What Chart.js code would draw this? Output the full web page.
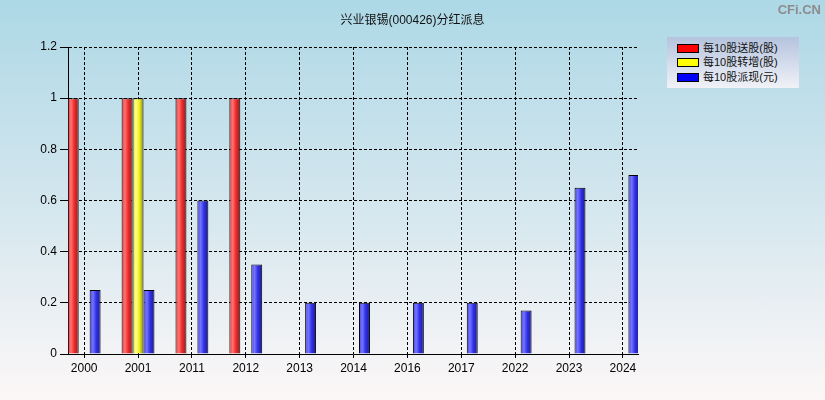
<!DOCTYPE html>
<html>
<head>
<meta charset="utf-8">
<script src="https://cdn.jsdelivr.net/npm/chart.js@4/dist/chart.umd.min.js"></script>
<style>
  body { margin: 0; }
  #wrap {
    position: relative;
    width: 825px;
    height: 400px;
    background: linear-gradient(to bottom, #add8e6 0%, #d3e6ee 50%, #fcf7f7 100%);
    font-family: 'Liberation Sans', 'Noto Sans CJK SC', sans-serif;
  }
  #title {
    position: absolute; left: 0; width: 825px; top: 10px;
    text-align: center; font-size: 12px; color: #111;
  }
  #mark {
    position: absolute; right: 4px; top: 2px;
    font: bold 13px 'Liberation Sans', sans-serif; color: #8c8c8c;
  }
  #legend {
    position: absolute; left: 667px; top: 37px; width: 132px; height: 51px;
    background: linear-gradient(to bottom, #b5c3de, #f1f2f8);
    font-size: 11px; color: #111;
  }
  .row { position: absolute; left: 10px; height: 14px; line-height: 14px; white-space: nowrap; }
  .sw { display: inline-block; width: 22px; height: 9px; border: 1px solid #000; box-sizing: border-box; vertical-align: -1px; margin-right: 4px; }
</style>
</head>
<body>
<div id="wrap">
  <canvas id="chart"></canvas>
  <div id="title">兴业银锡(000426)分红派息</div>
  <div id="mark">CFi.CN</div>
  <div id="legend"></div>
</div>
<script>
const years = ['2000', '2001', '2011', '2012', '2013', '2014', '2016', '2017', '2022', '2023', '2024'];
const songGu = [1, 1, 1, 1, null, null, null, null, null, null, null];
const zhuanZeng = [null, 1, null, null, null, null, null, null, null, null, null];
const paiXian = [0.25, 0.25, 0.6, 0.35, 0.2, 0.2, 0.2, 0.2, 0.17, 0.65, 0.7];
const seriesNames = ['每10股送股(股)', '每10股转增(股)', '每10股派现(元)'];
const seriesColors = ['#ff0000', '#ffff00', '#0000ff'];

// cylinder-like shading, stops per colour
const shades = [
  ['#d84040', '#ff7272', '#f02a2a', '#8a2020'],
  ['#d8d838', '#ffff8a', '#f2f222', '#8c8c10'],
  ['#4848d8', '#7474ff', '#3030ea', '#1c1c88'],
];

function barFill(c) {
  const i = c.datasetIndex;
  const el = c.element;
  if (!el || el.x == null || !el.width) return seriesColors[i];
  const g = c.chart.ctx.createLinearGradient(el.x - el.width / 2, 0, el.x + el.width / 2, 0);
  g.addColorStop(0, shades[i][0]);
  g.addColorStop(0.3, shades[i][1]);
  g.addColorStop(0.6, shades[i][2]);
  g.addColorStop(1, shades[i][3]);
  return g;
}

const toPoints = arr => arr.map((v, i) => ({ x: i, y: v }));

const legendEl = document.getElementById('legend');
seriesNames.forEach((name, i) => {
  const row = document.createElement('div');
  row.className = 'row';
  row.style.top = (4 + i * 14.3) + 'px';
  row.innerHTML = '<span class="sw" style="background:' + seriesColors[i] + '"></span>' + name;
  legendEl.appendChild(row);
});

const tickFont = { family: "'Liberation Sans', 'Noto Sans CJK SC', sans-serif", size: 12 };

const chart = new Chart(document.getElementById('chart'), {
  type: 'bar',
  data: {
    datasets: [songGu, zhuanZeng, paiXian].map((arr, i) => ({
      label: seriesNames[i],
      data: toPoints(arr),
      backgroundColor: barFill,
      borderColor: '#000',
      borderWidth: 1,
      categoryPercentage: 0.61,
      barPercentage: 1,
    })),
  },
  options: {
    responsive: true,
    maintainAspectRatio: false,
    animation: false,
    layout: { padding: { top: 47, right: 187, left: 0, bottom: 0 } },
    plugins: {
      legend: { display: false },
      tooltip: { enabled: false },
    },
    scales: {
      x: {
        type: 'linear',
        min: -0.3,
        max: 10.28,
        offset: false,
        afterBuildTicks: axis => { axis.ticks = years.map((y, i) => ({ value: i })); },
        afterFit: axis => { axis.height = 46; },
        grid: { offset: false, color: '#000', tickLength: 4, tickBorderDash: [] },
        border: { color: '#000', width: 1, dash: [3, 2] },
        ticks: {
          autoSkip: false,
          maxRotation: 0,
          padding: 3,
          color: '#000',
          font: tickFont,
          callback: v => years[v],
        },
      },
      y: {
        min: 0,
        max: 1.2,
        afterFit: axis => { axis.width = 68; },
        grid: { color: '#000', tickLength: 8, tickBorderDash: [] },
        border: { color: '#000', width: 1, dash: [3, 2] },
        ticks: {
          stepSize: 0.2,
          padding: 3,
          color: '#000',
          font: tickFont,
          callback: v => String(parseFloat(v.toFixed(1))),
        },
      },
    },
  },
});
// second pass so the bar gradients know where each bar sits
chart.update();
</script>
</body>
</html>
